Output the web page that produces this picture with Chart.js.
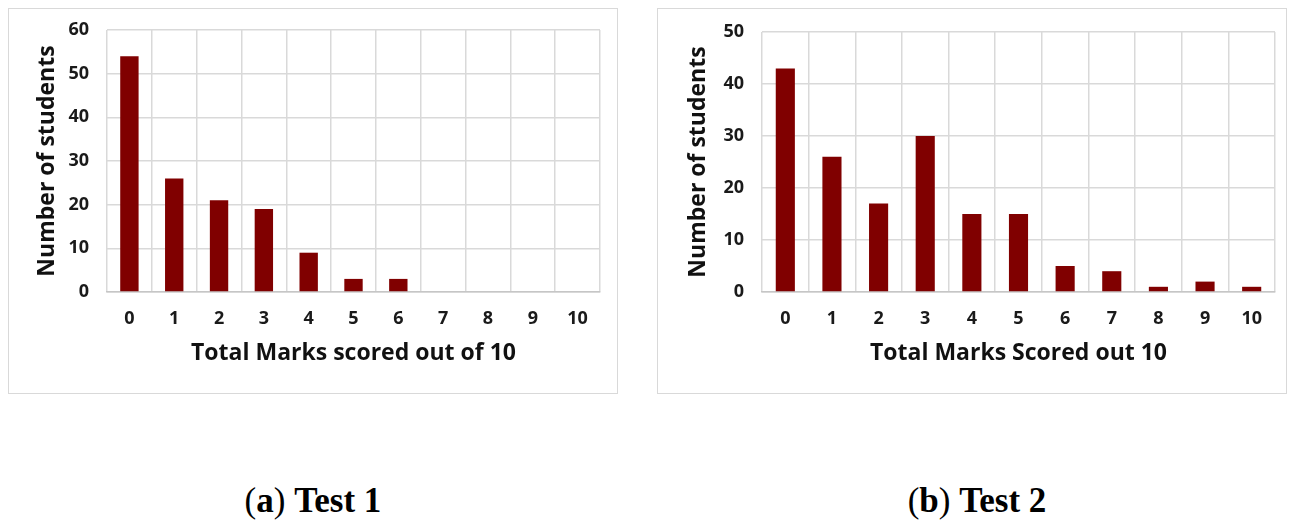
<!DOCTYPE html>
<html>
<head>
<meta charset="utf-8">
<script src="https://cdn.jsdelivr.net/npm/chart.js@4"></script>
<style>
  html, body { margin: 0; padding: 0; background: #ffffff; }
  body { width: 1292px; height: 520px; position: relative; overflow: hidden; }
  .panel { position: absolute; border: 1.5px solid #d9d9d9; box-sizing: border-box; background: #fff; }
  .panel canvas { position: absolute; left: 0; top: 0; }
  .cap { position: absolute; font-family: "Liberation Serif", "DejaVu Serif", serif; font-size: 35px; line-height: 1; color: #000; white-space: nowrap; transform: translateX(-50%); }
  .cap b { font-weight: bold; }
</style>
</head>
<body>
<div class="panel" id="p1" style="left:8px; top:8px; width:610px; height:386px;"><canvas id="c1"></canvas></div>
<div class="panel" id="p2" style="left:657px; top:8px; width:630px; height:386px;"><canvas id="c2"></canvas></div>
<div class="cap" style="left:313px; top:483px;">(<b>a</b>) <b>Test 1</b></div>
<div class="cap" style="left:977px; top:483px;">(<b>b</b>) <b>Test 2</b></div>
<script>
const categories = ["0", "1", "2", "3", "4", "5", "6", "7", "8", "9", "10"];
const test1Values = [54, 26, 21, 19, 9, 3, 3, 0, 0, 0, 0];
const test2Values = [43, 26, 17, 30, 15, 15, 5, 4, 1, 2, 1];
const test1XTitle = "Total Marks scored out of 10";
const test2XTitle = "Total Marks Scored out 10";
const yTitle = "Number of students";
const test1YMax = 60;
const test2YMax = 50;

const FONT = "'Open Sans', Lato, sans-serif";

function makeChart(id, w, h, values, xTitle, yMax, yWidth, padTop, padRight, yTitlePad) {
  const canvas = document.getElementById(id);
  canvas.width = w; canvas.height = h;
  canvas.style.width = w + 'px'; canvas.style.height = h + 'px';
  const xHeight = h - 283;
  return new Chart(canvas, {
    type: 'bar',
    data: {
      labels: categories,
      datasets: [{
        data: values,
        backgroundColor: '#800000',
        borderWidth: 0,
        categoryPercentage: 1.0,
        barPercentage: 0.41
      }]
    },
    options: {
      responsive: false,
      animation: false,
      devicePixelRatio: 1,
      layout: { padding: { top: padTop, right: padRight, left: 0, bottom: 0 } },
      plugins: { legend: { display: false }, tooltip: { enabled: false } },
      scales: {
        x: {
          grid: { color: '#d9d9d9', lineWidth: 1.5, drawTicks: false, offset: true },
          border: { color: '#c6c6c6', width: 1.5 },
          ticks: { color: '#1a1a1a', padding: 16, font: { family: FONT, size: 18, weight: '700' } },
          title: { display: true, text: xTitle, color: '#111', padding: { top: 0, bottom: 25 }, font: { family: FONT, size: 23, weight: '700' } },
          afterFit: (s) => { s.height = xHeight; s.paddingLeft = 0; s.paddingRight = 0; }
        },
        y: {
          min: 0, max: yMax,
          grid: { color: '#d9d9d9', lineWidth: 1.5, drawTicks: false },
          border: { display: false },
          ticks: { stepSize: 10, color: '#1a1a1a', padding: 18, font: { family: FONT, size: 18, weight: '700' } },
          title: { display: true, text: yTitle, color: '#111', padding: { top: yTitlePad, bottom: 0 }, font: { family: FONT, size: 23, weight: '700' } },
          afterFit: (s) => { s.width = yWidth; s.paddingTop = 0; s.paddingBottom = 0; }
        }
      }
    }
  });
}

makeChart('c1', 607, 383, test1Values, test1XTitle, test1YMax, 98, 21, 16, 25);
makeChart('c2', 627, 383, test2Values, test2XTitle, test2YMax, 104, 23, 10, 27);
</script>
</body>
</html>
